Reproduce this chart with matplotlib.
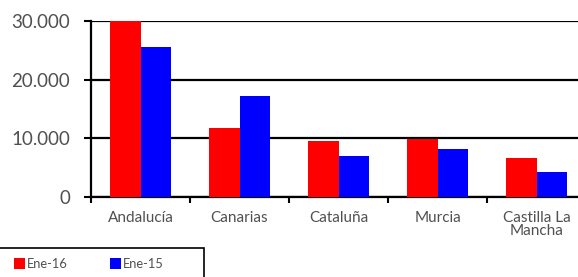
import matplotlib
matplotlib.use("Agg")
import matplotlib.pyplot as plt
import numpy as np
from matplotlib.patches import Rectangle
from matplotlib.ticker import FuncFormatter

categories = ["Andalucía", "Canarias", "Cataluña", "Murcia", "Castilla La\nMancha"]
ene_16 = [30000, 11800, 9550, 9850, 6600]
ene_15 = [25500, 17300, 6950, 8200, 4300]
yticks = [0, 10000, 20000, 30000]

plt.rcParams["font.family"] = ["Lato", "DejaVu Sans"]

fig = plt.figure(figsize=(5.78, 2.77), dpi=100)
ax = fig.add_axes([91 / 578, 1 - 197 / 277, 495 / 578, 176 / 277])

x = np.arange(len(categories))
w = 0.31
ax.bar(x - w / 2, ene_16, width=w, color="#ff0000", label="Ene-16", zorder=3)
ax.bar(x + w / 2, ene_15, width=w, color="#0000ff", label="Ene-15", zorder=3)

ax.set_xlim(-0.5, len(categories) - 0.5)
ax.set_ylim(0, 30000)
ax.set_yticks(yticks)
ax.yaxis.set_major_formatter(FuncFormatter(lambda v, p: f"{int(v):,}".replace(",", ".")))
ax.grid(axis="y", color="black", linewidth=1.6, zorder=1)
ax.set_axisbelow(True)

ax.set_xticks(x)
ax.set_xticklabels(categories, fontsize=11, color="#505050", linespacing=0.95)
ax.tick_params(axis="x", which="major", length=0, pad=10)
ax.set_xticks(np.arange(len(categories) + 1) - 0.5, minor=True)
ax.tick_params(axis="x", which="minor", length=4, width=1.5, color="black")
ax.tick_params(axis="y", length=5, width=1.5, colors="black", labelsize=13.5,
               labelcolor="#505050", pad=10)

for side in ("top", "right"):
    ax.spines[side].set_visible(False)
for side in ("left", "bottom"):
    ax.spines[side].set_linewidth(1.6)
    ax.spines[side].set_color("black")

# legend box
fig.patches.append(Rectangle((-0.01, -0.1), 204 / 578 + 0.01, 0.1 + 29 / 277,
                             transform=fig.transFigure, fill=False,
                             edgecolor="black", linewidth=1.2))
leg = fig.legend(loc="upper left", bbox_to_anchor=(10 / 578, 1 - 254 / 277), ncol=2,
                 fontsize=9.3, frameon=False, borderaxespad=0,
                 handlelength=0.85, handleheight=0.85, handletextpad=0.15,
                 columnspacing=3.3, borderpad=0.3, labelcolor="#505050")

fig.savefig("out.png", dpi=100)
